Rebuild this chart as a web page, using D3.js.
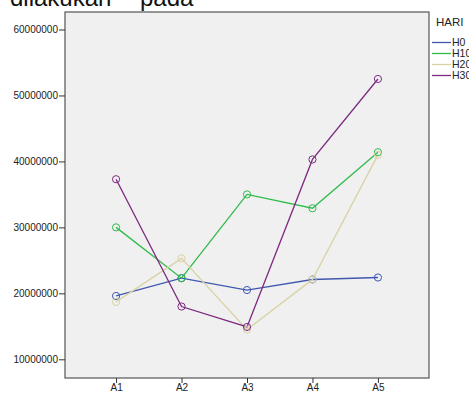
<!DOCTYPE html>
<html lang="en">
    <head>
        <meta charset="utf-8">
        <title>Line chart HARI</title>
        <script type="text/javascript" src="https://d3js.org/d3.v7.min.js"></script>
        <style type="text/css">
            body { margin: 0; background: #fff; }
            .axis text { font-family: "Liberation Sans", Arial, sans-serif; font-size: 10px; fill: #222; }
            .axis path { display: none; }
            .axis line { stroke: #333; }
            .line { fill: none; stroke-width: 1.3; }
            .dot { fill: none; stroke-width: 1; }
            .legend text { font-family: "Liberation Sans", Arial, sans-serif; font-size: 10.5px; fill: #222; }
            .title { font-family: "Liberation Sans", Arial, sans-serif; font-size: 24px; fill: #111; }
        </style>
    </head>
    <body>
        <script type="text/javascript">
            var w = 469;
            var h = 394;

            // Datos
            var categories = ["A1", "A2", "A3", "A4", "A5"];
            var seriesNames = ["H0", "H10", "H20", "H30"];
            var h0  = [19600000, 22300000, 20500000, 22100000, 22400000];
            var h10 = [30000000, 22300000, 35000000, 32900000, 41400000];
            var h20 = [18700000, 25300000, 14500000, 22100000, 41000000];
            var h30 = [37300000, 18000000, 14900000, 40300000, 52500000];
            var yTicks = [10000000, 20000000, 30000000, 40000000, 50000000, 60000000];
            var colors = ["#3f58b0", "#2fbb4a", "#d8d3a4", "#7d2a80"];

            var series = [h0, h10, h20, h30];

            // Area del grafico (no usar "top": choca con window.top)
            var plotLeft = 65, plotRight = 429, plotTop = 12, plotBottom = 378;

            var xScale = d3.scalePoint()
                .domain(categories)
                .range([plotLeft, plotRight])
                .padding(0.78);

            var yScale = d3.scaleLinear()
                .domain([10000000, 60000000])
                .range([359.3, 29.5]);

            var svg = d3.select("body")
                .append("svg")
                .attr("width", w)
                .attr("height", h);

            // Titulo cortado arriba
            svg.append("text").attr("class", "title").attr("x", 10).attr("y", 6).text("dilakukan");
            svg.append("text").attr("class", "title").attr("x", 140).attr("y", 6).text("pada");

            // Fondo
            svg.append("rect")
                .attr("x", plotLeft)
                .attr("y", plotTop)
                .attr("width", plotRight - plotLeft)
                .attr("height", plotBottom - plotTop)
                .attr("fill", "#f0f0f0")
                .attr("stroke", "#555")
                .attr("stroke-width", 1.2);

            // Ejes
            var yAxis = d3.axisLeft(yScale)
                .tickValues(yTicks)
                .tickFormat(d3.format("d"))
                .tickSize(6)
                .tickPadding(1);
            svg.append("g")
                .attr("class", "axis")
                .attr("transform", "translate(" + plotLeft + ",0)")
                .call(yAxis);

            var xAxis = d3.axisBottom(xScale)
                .tickSize(5)
                .tickPadding(1);
            svg.append("g")
                .attr("class", "axis")
                .attr("transform", "translate(0," + plotBottom + ")")
                .call(xAxis);

            var line = d3.line()
                .x(function(d, i) { return xScale(categories[i]); })
                .y(function(d) { return yScale(d); });

            series.forEach(function(s, k) {
                svg.append("path")
                    .datum(s)
                    .attr("class", "line")
                    .attr("stroke", colors[k])
                    .attr("d", line);
            });

            series.forEach(function(s, k) {
                svg.selectAll(".dot" + k)
                    .data(s)
                    .enter()
                    .append("circle")
                    .attr("class", "dot")
                    .attr("stroke", colors[k])
                    .attr("cx", function(d, i) { return xScale(categories[i]); })
                    .attr("cy", function(d) { return yScale(d); })
                    .attr("r", 3.6);
            });

            // Leyenda
            var legend = svg.append("g").attr("class", "legend");
            legend.append("text")
                .attr("x", 436)
                .attr("y", 26)
                .style("font-size", "11.5px")
                .text("HARI");
            seriesNames.forEach(function(name, k) {
                var y = 42.5 + k * 11;
                legend.append("line")
                    .attr("x1", 432).attr("x2", 451)
                    .attr("y1", y).attr("y2", y)
                    .attr("stroke", colors[k])
                    .attr("stroke-width", 1.3);
                legend.append("text")
                    .attr("x", 452)
                    .attr("y", y + 3.5)
                    .text(name);
            });
        </script>
    </body>
</html>
